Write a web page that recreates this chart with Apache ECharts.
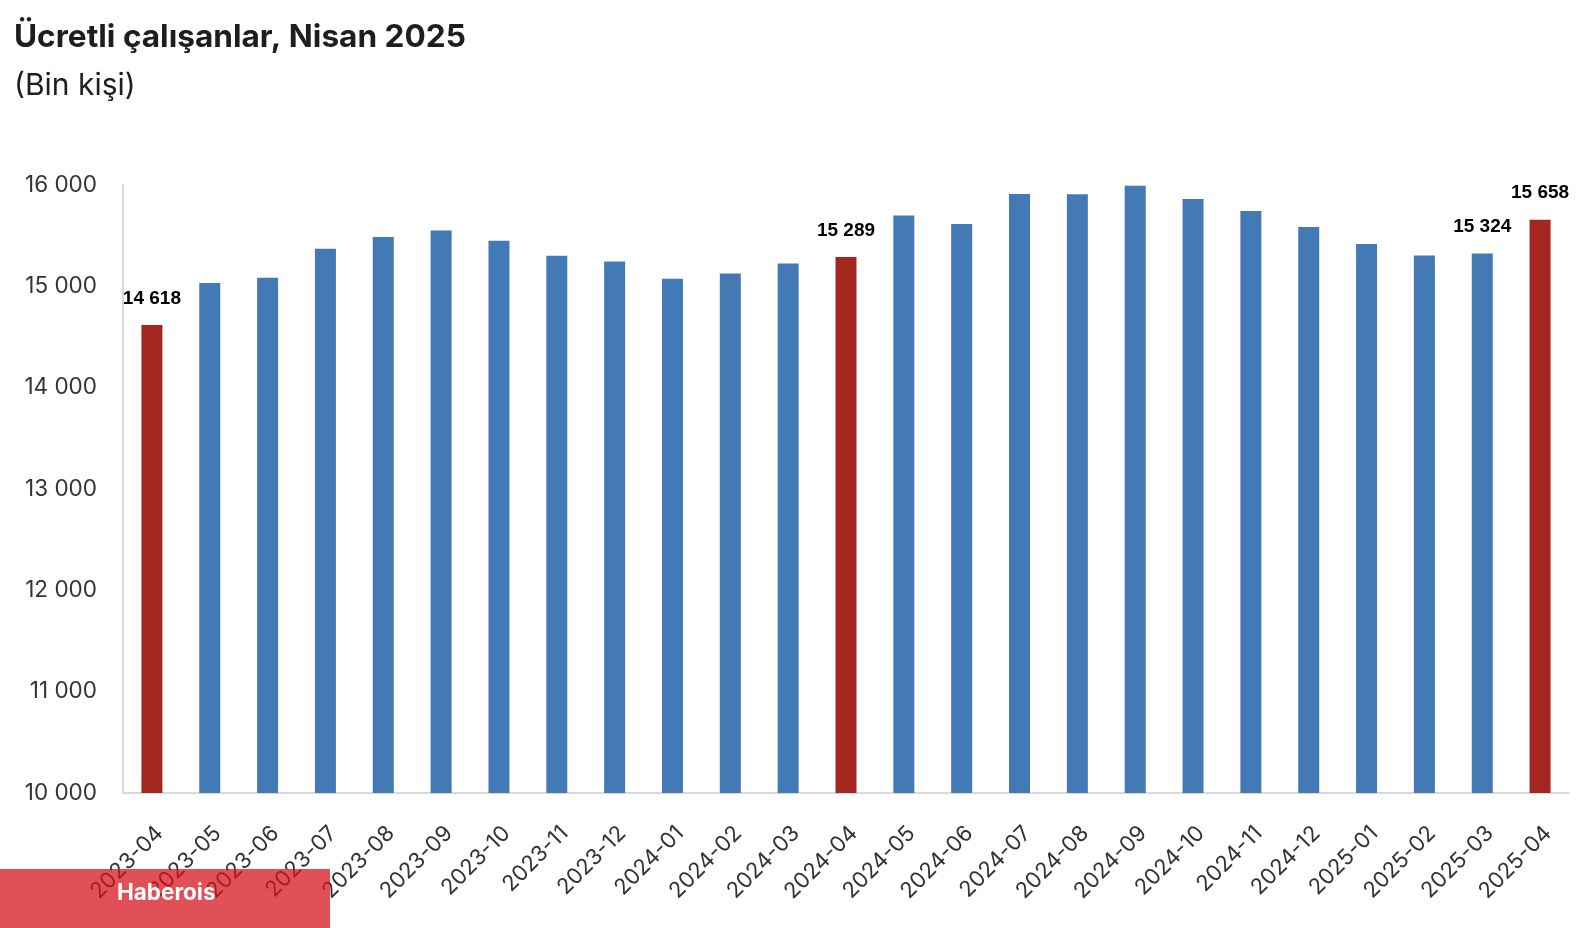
<!DOCTYPE html>
<html>
<head>
<meta charset="utf-8">
<script src="https://cdn.jsdelivr.net/npm/echarts@6/dist/echarts.min.js"></script>
<style>
html,body{margin:0;padding:0;background:#fff;}
#chart{width:1586px;height:928px;}
</style>
</head>
<body>
<div id="chart"></div>
<script>
const categories = ['2023-04','2023-05','2023-06','2023-07','2023-08','2023-09','2023-10','2023-11','2023-12','2024-01','2024-02','2024-03','2024-04','2024-05','2024-06','2024-07','2024-08','2024-09','2024-10','2024-11','2024-12','2025-01','2025-02','2025-03','2025-04'];
const values = [14618,15032,15084,15371,15486,15552,15450,15301,15246,15074,15127,15226,15289,15700,15615,15911,15908,15993,15862,15743,15585,15417,15305,15324,15658];
const highlighted = ['2023-04','2024-04','2025-04'];
const labeled = ['2023-04','2024-04','2025-03','2025-04'];
const yTicks = [10000,11000,12000,13000,14000,15000,16000];

const BLUE = '#437AB5';
const RED = '#A3271F';
const fmt = v => String(v).replace(/\B(?=(\d{3})+(?!\d))/g, ' ');

const chart = echarts.init(document.getElementById('chart'), null, {renderer:'canvas'});
chart.setOption({
  animation:false,
  backgroundColor:'#ffffff',
  title:[
    {text:'Ücretli çalışanlar, Nisan 2025', left:9, top:16,
     textStyle:{fontFamily:'Inter', fontSize:31.6, fontWeight:'bold', color:'#1e1e1e'}},
    {text:'(Bin kişi)', left:9, top:66,
     textStyle:{fontFamily:'Inter', fontSize:30, fontWeight:'normal', color:'#1e1e1e'}}
  ],
  grid:{left:123, right:17, top:185, bottom:135, containLabel:false},
  xAxis:{
    type:'category',
    data:categories,
    axisTick:{show:false},
    axisLine:{show:true, lineStyle:{color:'#d9d9d9', width:2}},
    axisLabel:{rotate:45, margin:29, verticalAlign:'top', fontFamily:'Inter', fontSize:22, color:'#333', interval:0}
  },
  yAxis:{
    type:'value',
    min:yTicks[0], max:yTicks[yTicks.length-1], interval:1000,
    axisLine:{show:true, lineStyle:{color:'#d9d9d9', width:2}},
    axisTick:{show:false},
    splitLine:{show:false},
    axisLabel:{margin:26, fontFamily:'Inter', fontSize:22.5, color:'#333', formatter:fmt}
  },
  series:[{
    type:'bar',
    barWidth:21,
    data:values.map((v,i)=>({
      value:v,
      itemStyle:{color: highlighted.includes(categories[i]) ? RED : BLUE},
      label:{show: labeled.includes(categories[i])}
    })),
    label:{position:'top', distance:17, fontFamily:'Liberation Sans, Arial, sans-serif', fontSize:19, fontWeight:'bold', color:'#000', formatter:p=>fmt(p.value)}
  }],
  graphic:[
    {type:'rect', left:0, top:869, z:100, shape:{width:330, height:59}, style:{fill:'rgba(213,17,24,0.735)'}},
    {type:'text', left:117, top:882, z:101, style:{text:'Haberois', fill:'#fff', font:'bold 22.5px Inter'}}
  ]
});
</script>
</body>
</html>
